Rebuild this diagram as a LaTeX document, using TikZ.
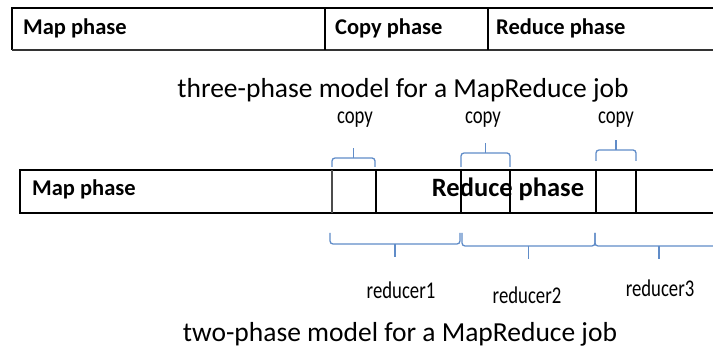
\documentclass[tikz,border=0pt]{standalone}
\usepackage{fontspec}
\setmainfont{Carlito}
\usepackage{graphicx}
\usepackage{tikz}
\definecolor{braceblue}{RGB}{96,140,200}
\tikzset{
	bracket/.style={draw=braceblue, line width=1.3pt, rounded corners=3pt},
	barlabel/.style={inner sep=0pt, font=\fontsize{22.5}{26}\selectfont\bfseries},
	caption/.style={inner sep=0pt, font=\fontsize{27.5}{31}\selectfont},
	smalllabel/.style={inner sep=0pt, font=\fontsize{24}{28}\selectfont}
}
\def\narrow#1{\scalebox{0.78}[1]{#1}}
% (x1:x2:line y:end y:tip y)
\def\bracketat(#1:#2:#3:#4:#5){\draw[bracket] (#1,#4) -- (#1,#3) -- (#2,#3) -- (#2,#4); \draw[bracket] ({(#1+#2)/2},#3) -- ({(#1+#2)/2},#5);}

\begin{document}
\begin{tikzpicture}[x=1pt, y=-1pt]
			%%%%% START %%%%%
			\clip (0, 0) rectangle (713, 347);
			\fill[white] (0, 0) rectangle (713, 347);
			
			% three-phase bar
			\draw[line width=1.3pt] (720, 8) -- (12, 8) -- (12, 50);
			\draw[line width=2.2pt, black!80] (12, 50) -- (720, 50);
			\draw[line width=1.2pt] (325, 8) -- (325, 50);
			\draw[line width=1.2pt] (488, 8) -- (488, 50);
			
			\node[barlabel, anchor=west] (mapA) at (23, 28) {Map phase};
			\node[barlabel, anchor=west] (copyA) at (335, 28) {Copy phase};
			\node[barlabel, anchor=west] (reduceA) at (496, 28) {Reduce phase};
			
			\node[caption] (captionA) at (403, 90.5) {three-phase model for a MapReduce job};
			
			% two-phase bar
			\draw[line width=1.5pt] (720, 170) -- (20, 170) -- (20, 213) -- (720, 213);
			\draw[line width=2.6pt, black!70] (332, 170) -- (332, 213);
			\draw[line width=1.2pt] (376, 170) -- (376, 213);
			\draw[line width=1.2pt] (461, 170) -- (461, 213);
			\draw[line width=1.2pt] (510, 170) -- (510, 213);
			\draw[line width=1.2pt] (596, 170) -- (596, 213);
			\draw[line width=1.2pt] (636, 170) -- (636, 213);
			
			\node[barlabel, anchor=west] (mapB) at (32, 189) {Map phase};
			\node[barlabel, font=\fontsize{26.5}{30}\selectfont\bfseries] (reduceB) at (508, 189) {Reduce phase};
			
			% copy brackets
			\bracketat(332:375:158:167:148)
			\bracketat(461:510:153:167:143)
			\bracketat(596:636:150:161:140)
			\node[smalllabel] (copy1) at (355, 120) {\narrow{copy}};
			\node[smalllabel] (copy2) at (483, 120) {\narrow{copy}};
			\node[smalllabel] (copy3) at (616, 120) {\narrow{copy}};
			
			% reducer brackets
			\bracketat(330:460:244:233:257)
			\bracketat(462:595:246:233:259)
			\bracketat(595:723:246:233:259)
			\node[smalllabel] (reducer1) at (401, 290) {\narrow{reducer1}};
			\node[smalllabel] (reducer2) at (527, 295) {\narrow{reducer2}};
			\node[smalllabel] (reducer3) at (660, 288) {\narrow{reducer3}};
			
			\node[caption] (captionB) at (400, 334) {two-phase model for a MapReduce job};
			%%%%% END %%%%%
\end{tikzpicture}
\end{document}
